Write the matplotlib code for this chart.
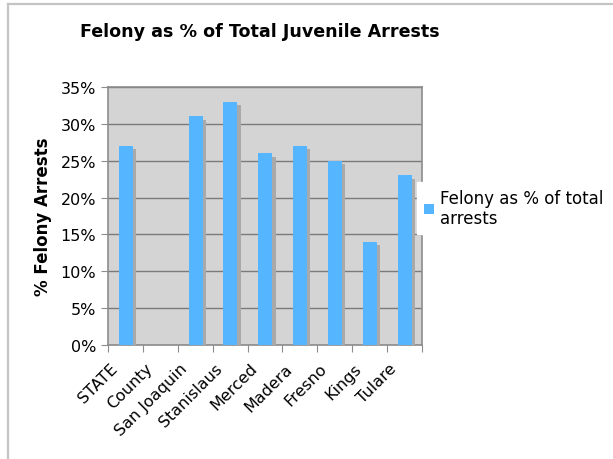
import numpy as np
import matplotlib
matplotlib.use('Agg')
from matplotlib import pyplot as plt
from matplotlib import patheffects as pe
from matplotlib.lines import Line2D
from matplotlib.ticker import PercentFormatter


regions  = ['STATE', 'County', 'San Joaquin', 'Stanislaus', 'Merced', 'Madera', 'Fresno', 'Kings', 'Tulare']
felony   = [0.27, 0.0, 0.31, 0.33, 0.26, 0.27, 0.25, 0.14, 0.23]
yticks   = [0.0, 0.05, 0.10, 0.15, 0.20, 0.25, 0.30, 0.35]
series   = 'Felony as % of total\narrests'



W,H = 613, 460
fig = plt.figure(figsize=(W/100, H/100), dpi=100)

# frame round the whole chart (only left and top edges show)
fig.add_artist( Line2D([8/W, 8/W], [0, 1-5/H], color='#c4c4c4', lw=1.6, transform=fig.transFigure) )
fig.add_artist( Line2D([8/W, 1], [1-5/H, 1-5/H], color='#c4c4c4', lw=1.6, transform=fig.transFigure) )

ax = fig.add_axes([108/W, 1-346/H, (422-108)/W, (346-88)/H])
ax.set_facecolor('#d4d4d4')
for s in ax.spines.values():
    s.set_color('#8c8c8c')
    s.set_linewidth(1.2)

x = np.arange(len(regions))
shadow = [pe.SimplePatchShadow(offset=(2.3,-2.3), shadow_rgbFace='#a9a9a9', alpha=1.0), pe.Normal()]
bars = ax.bar(x+0.31, felony, width=0.40, align='edge', color='#55b6ff', label=series, zorder=3)
for b,v in zip(bars, felony):
    if v > 0:
        b.set_path_effects(shadow)
    else:
        b.set_visible(False)

ax.set_xlim(0, len(regions))
ax.set_ylim(0, 0.35)
ax.set_yticks(yticks)
ax.yaxis.set_major_formatter(PercentFormatter(1.0, decimals=0))
ax.yaxis.grid(True, color='#7a7a7a', lw=1.0, zorder=1)
ax.set_axisbelow(True)

ax.set_xticks(np.arange(len(regions)+1))
ax.set_xticklabels([])
ax.set_xticks(x+0.05, minor=True)
ax.set_xticklabels(regions, minor=True, rotation=45, ha='right', rotation_mode='anchor', fontsize=11.5)
ax.tick_params(axis='x', which='minor', length=0, pad=11)
ax.tick_params(axis='both', which='major', length=5, color='#8c8c8c', labelsize=11.5)

ax.set_ylabel('% Felony Arrests', fontsize=12, fontweight='bold', labelpad=6)
fig.text(260/W, 1-32/H, 'Felony as % of Total Juvenile Arrests', ha='center', va='center', fontsize=12.6, fontweight='bold')

leg = fig.legend(handles=[bars], labels=[series], loc='upper left', bbox_to_anchor=(417/W, 1-183/H),
                 frameon=True, fancybox=False, fontsize=12, handlelength=0.6, handleheight=0.6,
                 handletextpad=0.4, borderpad=0.4, borderaxespad=0, labelspacing=0.2)
leg.get_frame().set_edgecolor('white')
leg.get_frame().set_facecolor('white')
leg.get_frame().set_alpha(1)
leg.legend_handles[0].set_path_effects([])

plt.savefig('out.png', dpi=100)
